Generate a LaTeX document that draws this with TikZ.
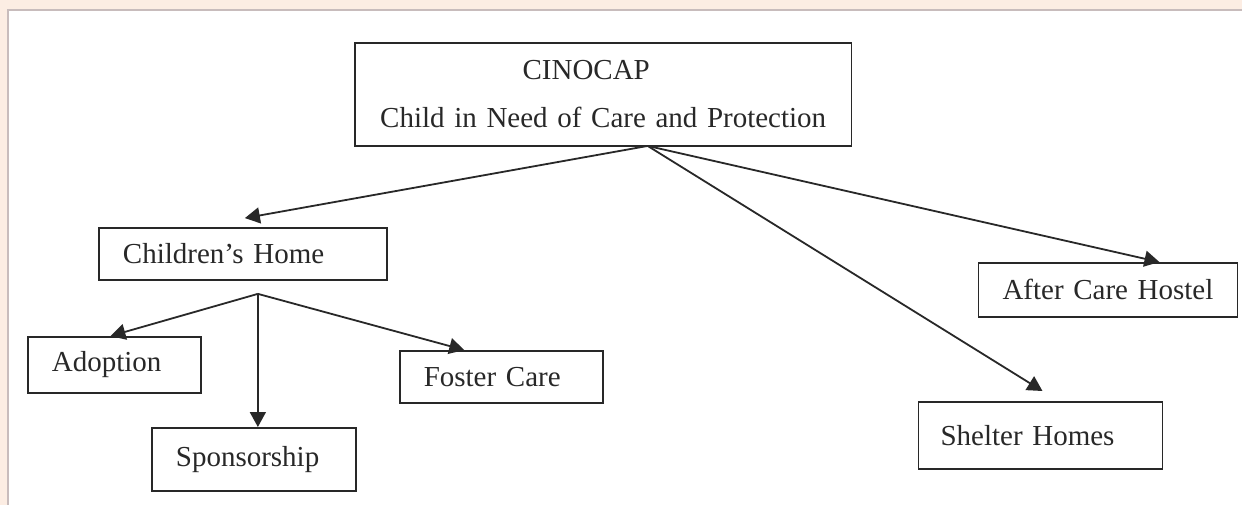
\documentclass[tikz,border=0pt]{standalone}
\usepackage{fontspec}
\setmainfont{Liberation Serif}
\usetikzlibrary{arrows.meta,positioning}

\definecolor{peach}{RGB}{252,237,227}
\definecolor{rim}{RGB}{200,188,188}
\definecolor{ink}{RGB}{40,40,40}

\tikzset{
  box/.style={draw=ink,line width=1.6pt,inner xsep=24pt,inner ysep=0pt,
    align=left,font=\fontsize{29}{48}\selectfont,text=ink},
  arr/.style={draw=ink,line width=1.8pt,-{Triangle[length=15pt,width=16pt]}}
}

\begin{document}
\begin{tikzpicture}[x=1pt,y=-1pt]
        % page background
        \fill[peach] (0,0) rectangle (1243,505);
        \fill[white] (8,10) rectangle (1243,505);
        \draw[rim,line width=1.2pt] (8,505)--(8,10)--(1243,10);
        \useasboundingbox (0,0) rectangle (1243,505);
        % boxes
        \node[box,align=center,text width=449pt,minimum height=103pt] (cin) at (603.5,94.5)
          {CINOCAP\hspace*{34pt}\mbox{}\\Child in Need of Care and Protection};
        \node[box,text width=240pt,minimum height=52pt] (home) at (243,254) {Children’s Home};
        \node[box,text width=125pt,minimum height=56pt] (adopt) at (114.5,365) {Adoption};
        \node[box,text width=156pt,minimum height=63pt] (spons) at (254,459.5) {Sponsorship};
        \node[box,text width=155pt,minimum height=52pt] (foster) at (501.5,377) {Foster Care};
        \node[box,text width=211pt,minimum height=54pt] (after) at (1108.5,290) {After Care Hostel};
        \node[box,inner xsep=22pt,text width=200pt,minimum height=67pt] (shelter) at (1041,435.5) {Shelter Homes};
        % arrows
        \coordinate (cinfoot) at (648,146);
        \coordinate (homefoot) at (258,294);
        \draw[arr] (cinfoot) -- ([xshift=2pt,yshift=9pt]home.north);
        \draw[arr] (cinfoot) -- ([xshift=2pt,yshift=10pt]shelter.north);
        \draw[arr] (cinfoot) -- ([xshift=51.5pt]after.north);
        \draw[arr] (homefoot) -- ([xshift=-4pt]adopt.north);
        \draw[arr] (homefoot) -- ([xshift=4pt]spons.north);
        \draw[arr] (homefoot) -- ([xshift=-37pt]foster.north);
      \end{tikzpicture}
\end{document}
